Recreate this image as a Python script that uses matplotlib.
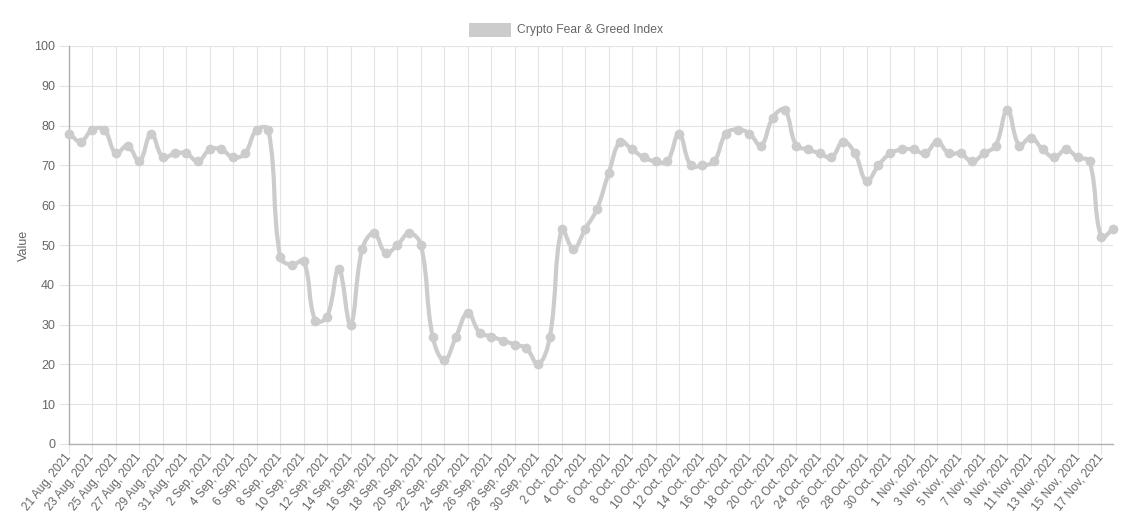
import numpy as np
import pandas as pd
import matplotlib
matplotlib.use("Agg")
import matplotlib.pyplot as plt
from matplotlib.path import Path
from matplotlib.patches import PathPatch, Rectangle

plt.rcParams['font.family'] = ['Liberation Sans', 'DejaVu Sans']

# daily index values, 21 Aug 2021 .. 18 Nov 2021
start_date = "2021-08-21"
values = [78, 76, 79, 79, 73, 75, 71, 78, 72, 73, 73,
          71, 74, 74, 72, 73, 79, 79, 47, 45, 46, 31, 32, 44, 30, 49, 53, 48, 50, 53,
          50, 27, 21, 27, 33, 28, 27, 26, 25, 24, 20,
          27, 54, 49, 54, 59, 68, 76, 74, 72, 71, 71, 78, 70, 70, 71, 78, 79, 78, 75,
          82, 84, 75, 74, 73, 72, 76, 73, 66, 70, 73, 74,
          74, 73, 76, 73, 73, 71, 73, 75, 84, 75, 77, 74, 72, 74, 72, 71, 52, 54]
series_name = "Crypto Fear & Greed Index"
y_label = "Value"

dates = pd.date_range(start_date, periods=len(values), freq="D")
labels = [f"{d.day} {d.strftime('%b')}, {d.year}" for d in dates]

W, H = 1134, 527
fig = plt.figure(figsize=(W / 100, H / 100), dpi=100)
L, R, T, B = 69, 1113, 46, 444
ax = fig.add_axes([L / W, 1 - B / H, (R - L) / W, (B - T) / H])

grey = "#cccccc"
text_c = "#666666"
grid_c = "#e3e3e3"

x = np.arange(len(values), dtype=float)
y = np.array(values, dtype=float)

# chart.js style bezier (tension 0.4), computed in pixel space
sx = (R - L) / (len(values) - 1)
sy = (B - T) / 100.0
px, py = x * sx, y * sy
t = 0.4
cp_prev = np.zeros((len(x), 2))
cp_next = np.zeros((len(x), 2))
for i in range(len(x)):
    pi = max(i - 1, 0)
    ni = min(i + 1, len(x) - 1)
    d01 = np.hypot(px[i] - px[pi], py[i] - py[pi])
    d12 = np.hypot(px[ni] - px[i], py[ni] - py[i])
    tot = d01 + d12
    s01 = d01 / tot if tot else 0
    s12 = d12 / tot if tot else 0
    fa, fb = t * s01, t * s12
    dx, dy = px[ni] - px[pi], py[ni] - py[pi]
    cp_prev[i] = (px[i] - fa * dx, py[i] - fa * dy)
    cp_next[i] = (px[i] + fb * dx, py[i] + fb * dy)

verts = [(x[0], y[0])]
codes = [Path.MOVETO]
for i in range(len(x) - 1):
    verts += [(cp_next[i][0] / sx, cp_next[i][1] / sy),
              (cp_prev[i + 1][0] / sx, cp_prev[i + 1][1] / sy),
              (x[i + 1], y[i + 1])]
    codes += [Path.CURVE4] * 3
ax.add_patch(PathPatch(Path(verts, codes), facecolor="none", edgecolor=grey,
                       lw=3, capstyle="round", joinstyle="round", zorder=3,
                       clip_on=False))
ax.plot(x, y, "o", color=grey, ms=6, zorder=4, clip_on=False)

ax.set_xlim(0, len(values) - 1)
ax.set_ylim(0, 100)
ax.set_yticks(range(0, 101, 10))
tick_pos = x[::2]
ax.set_xticks(tick_pos)
ax.set_xticklabels(labels[::2], rotation=51, ha="right", va="center",
                   rotation_mode="anchor", fontsize=8.5, color=text_c)
ax.tick_params(axis="y", labelsize=9, labelcolor=text_c, length=7,
               color=grid_c, pad=3)
ax.tick_params(axis="x", length=7, color=grid_c, pad=1)
ax.grid(True, color=grid_c, lw=0.8)
ax.set_axisbelow(True)
for s in ["top", "right"]:
    ax.spines[s].set_visible(False)
for s in ["left", "bottom"]:
    ax.spines[s].set_color("#b0b0b0")
    ax.spines[s].set_linewidth(1)
ax.set_ylabel(y_label, fontsize=9, color=text_c, labelpad=3)

# legend at top
fig.patches.append(Rectangle((469 / W, 1 - 37 / H), 42 / W, 14 / H,
                             transform=fig.transFigure, facecolor=grey,
                             edgecolor=grey, lw=0))
fig.text(517 / W, 1 - 30 / H, series_name, fontsize=8.7, color=text_c,
         va="center", ha="left")

fig.savefig("out.png", dpi=100)
